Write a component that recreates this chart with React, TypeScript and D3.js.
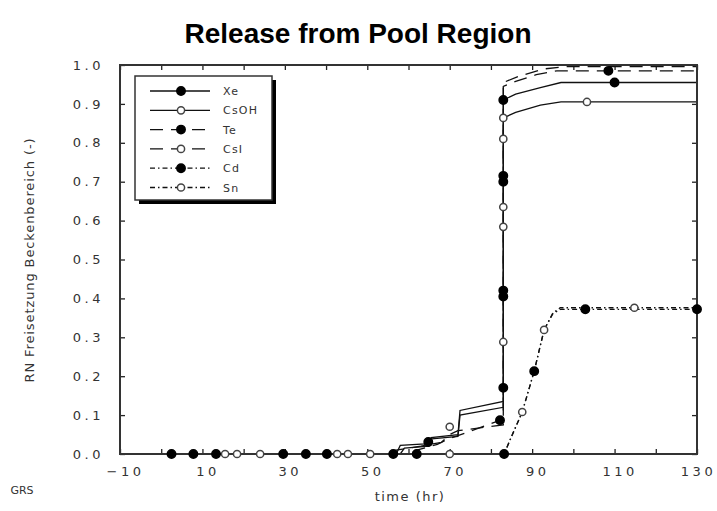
import React, { useEffect, useRef } from 'react';
import * as d3 from 'd3';

// tick values / labels
const xTicks = [-10, 0, 10, 20, 30, 40, 50, 60, 70, 80, 90, 100, 110, 120, 130];
const xLabels = [-10, 10, 30, 50, 70, 90, 110, 130];
const yTicks = [0, 0.1, 0.2, 0.3, 0.4, 0.5, 0.6, 0.7, 0.8, 0.9, 1.0];

// release curves [time hr, fraction]
const xeLine = [[0, 0], [58, 0], [59, 0.015], [65, 0.02], [65.5, 0.042], [72, 0.05], [72.5, 0.112], [83, 0.135], [83, 0.91], [86, 0.925], [92, 0.942], [97, 0.955], [130, 0.955]];
const csohLine = [[0, 0], [57, 0], [58, 0.022], [64, 0.026], [65, 0.038], [72, 0.045], [72.5, 0.1], [83, 0.12], [83, 0.864], [86, 0.878], [92, 0.897], [97, 0.905], [130, 0.905]];
const teLine = [[0, 0], [60, 0], [62, 0.01], [67, 0.025], [70, 0.04], [74, 0.055], [83, 0.09], [83, 0.945], [86, 0.958], [91, 0.975], [96, 0.985], [130, 0.985]];
const csiLine = [[0, 0], [55, 0], [57, 0.01], [63, 0.02], [68, 0.03], [70, 0.05], [72, 0.06], [83, 0.075], [83, 0.955], [87, 0.972], [93, 0.99], [98, 0.996], [130, 0.996]];
const cdLine = [[0, 0], [83.2, 0], [85, 0.045], [87.6, 0.108], [90.5, 0.213], [92.9, 0.319], [95, 0.36], [96.8, 0.372], [130, 0.372]];
const snLine = [[0, 0], [83.2, 0], [85, 0.045], [87.6, 0.108], [90.5, 0.213], [92.9, 0.319], [95, 0.362], [96.8, 0.376], [130, 0.376]];

// marker positions on each curve
const xeMarks = [[2.5, 0], [29.6, 0], [56.3, 0], [64.8, 0.031], [83, 0.17], [83, 0.42], [83, 0.715], [110, 0.955]];
const csohMarks = [[15.5, 0], [42.7, 0], [70, 0.07], [83, 0.288], [83, 0.635], [83, 0.864], [103.3, 0.905]];
const teMarks = [[7.8, 0], [35.1, 0], [62, 0], [82.2, 0.087], [83, 0.405], [83, 0.7], [83, 0.91], [108.5, 0.985]];
const csiMarks = [[18.4, 0], [45.3, 0], [70, 0], [83, 0.584], [83, 0.81]];
const cdMarks = [[13.3, 0], [40.2, 0], [83.2, 0], [90.5, 0.213], [102.9, 0.372], [130, 0.372]];
const snMarks = [[24, 0], [50.7, 0], [87.6, 0.108], [92.9, 0.319], [114.8, 0.376]];

const seriesNames = ['Xe', 'CsOH', 'Te', 'CsI', 'Cd', 'Sn'];

const App = () => {
  const ref = useRef(null);

  useEffect(() => {
    if (!ref.current) return;
    const svg = d3.select(ref.current);
    svg.selectAll('*').remove();

    const left = 120, right = 697, top = 65, bottom = 454;
    const x = d3.scaleLinear().domain([-10, 130]).range([left, right]);
    const y = d3.scaleLinear().domain([0, 1]).range([bottom, top]);

    const series = [
      { name: seriesNames[0], line: xeLine, marks: xeMarks, dash: null, filled: true },
      { name: seriesNames[1], line: csohLine, marks: csohMarks, dash: null, filled: false },
      { name: seriesNames[2], line: teLine, marks: teMarks, dash: '13,8', filled: true },
      { name: seriesNames[3], line: csiLine, marks: csiMarks, dash: '13,8', filled: false },
      { name: seriesNames[4], line: cdLine, marks: cdMarks, dash: '5,3,1.5,3', filled: true },
      { name: seriesNames[5], line: snLine, marks: snMarks, dash: '5,3,1.5,3', filled: false },
    ];

    svg.append('text')
      .attr('x', 358).attr('y', 43)
      .attr('text-anchor', 'middle')
      .style('font-family', 'Liberation Sans, Arial, sans-serif')
      .style('font-weight', 'bold').style('font-size', '28px')
      .text('Release from Pool Region');

    const g = svg.append('g');

    // inward ticks on all four sides
    const fmtX = (d) => (xLabels.includes(d) ? String(d).replace('-', '\u2212') : '');
    const bottomAxis = g.append('g').attr('transform', `translate(0,${bottom})`)
      .call(d3.axisBottom(x).tickValues(xTicks).tickSizeInner(-5).tickSizeOuter(0).tickPadding(13).tickFormat(fmtX));
    bottomAxis.selectAll('text').attr('dx', (d) => (d === 130 ? 1 : 5));
    g.append('g').attr('transform', `translate(0,${top})`)
      .call(d3.axisTop(x).tickValues(xTicks).tickSizeInner(-5).tickSizeOuter(0).tickFormat(() => ''));
    g.append('g').attr('transform', `translate(${left},0)`)
      .call(d3.axisLeft(y).tickValues(yTicks).tickSizeInner(-5).tickSizeOuter(0).tickPadding(16).tickFormat(d3.format('.1f')));
    g.append('g').attr('transform', `translate(${right},0)`)
      .call(d3.axisRight(y).tickValues(yTicks).tickSizeInner(-5).tickSizeOuter(0).tickFormat(() => ''));
    g.selectAll('.domain').remove();
    g.selectAll('.tick line').attr('stroke', '#222').attr('stroke-width', 1.3);
    g.selectAll('.tick text')
      .attr('fill', '#333')
      .style('font-family', 'DejaVu Sans, sans-serif')
      .style('font-size', '13px')
      .style('letter-spacing', '3.5px');

    // curves
    const line = d3.line().x((d) => x(d[0])).y((d) => y(d[1]));
    series.forEach((s) => {
      g.append('path')
        .attr('d', line(s.line))
        .attr('fill', 'none')
        .attr('stroke', '#111')
        .attr('stroke-width', 1.3)
        .attr('stroke-dasharray', s.dash);
    });

    // frame
    g.append('rect')
      .attr('x', left).attr('y', top)
      .attr('width', right - left).attr('height', bottom - top)
      .attr('fill', 'none').attr('stroke', '#333').attr('stroke-width', 2);

    series.forEach((s) => {
      g.selectAll(null).data(s.marks).enter().append('circle')
        .attr('cx', (d) => x(d[0])).attr('cy', (d) => y(d[1]))
        .attr('r', s.filled ? 4.2 : 3.6)
        .attr('fill', s.filled ? '#000' : '#fff')
        .attr('stroke', s.filled ? '#000' : '#444')
        .attr('stroke-width', 1.5);
    });

    // legend
    const lg = svg.append('g').attr('transform', 'translate(135,76)');
    lg.append('rect').attr('x', 4).attr('y', 4).attr('width', 137).attr('height', 124).attr('fill', '#000');
    lg.append('rect').attr('width', 137).attr('height', 124).attr('fill', '#fff').attr('stroke', '#333').attr('stroke-width', 1.5);
    series.forEach((s, i) => {
      const ry = 15 + i * 19.3;
      lg.append('line').attr('x1', 15).attr('x2', 75).attr('y1', ry).attr('y2', ry)
        .attr('stroke', '#111').attr('stroke-width', 1.3).attr('stroke-dasharray', s.dash);
      lg.append('circle').attr('cx', 46).attr('cy', ry)
        .attr('r', s.filled ? 4.2 : 3.6)
        .attr('fill', s.filled ? '#000' : '#fff')
        .attr('stroke', s.filled ? '#000' : '#444').attr('stroke-width', 1.5);
      lg.append('text').attr('x', 88).attr('y', ry + 4)
        .attr('fill', '#333')
        .style('font-family', 'DejaVu Sans, sans-serif').style('font-size', '11px')
        .style('letter-spacing', '1.2px')
        .text(s.name);
    });

    // axis titles
    svg.append('text')
      .attr('transform', 'translate(34,260) rotate(-90)')
      .attr('text-anchor', 'middle').attr('fill', '#333')
      .style('font-family', 'DejaVu Sans, sans-serif').style('font-size', '13px')
      .style('letter-spacing', '0.9px')
      .text('RN Freisetzung Beckenbereich (-)');
    svg.append('text')
      .attr('x', 410).attr('y', 501).attr('text-anchor', 'middle').attr('fill', '#333')
      .style('font-family', 'DejaVu Sans, sans-serif').style('font-size', '13px')
      .style('letter-spacing', '1.5px')
      .text('time (hr)');
    svg.append('text')
      .attr('x', 22).attr('y', 494).attr('text-anchor', 'middle').attr('fill', '#333')
      .style('font-family', 'DejaVu Sans, sans-serif').style('font-size', '11px')
      .text('GRS');
  }, []);

  return (
    <div style={{ position: 'absolute', left: 0, top: 0 }}>
      <svg width="717" height="511" ref={ref} style={{ display: 'block', background: '#fff' }}></svg>
    </div>
  );
};

export default App;
